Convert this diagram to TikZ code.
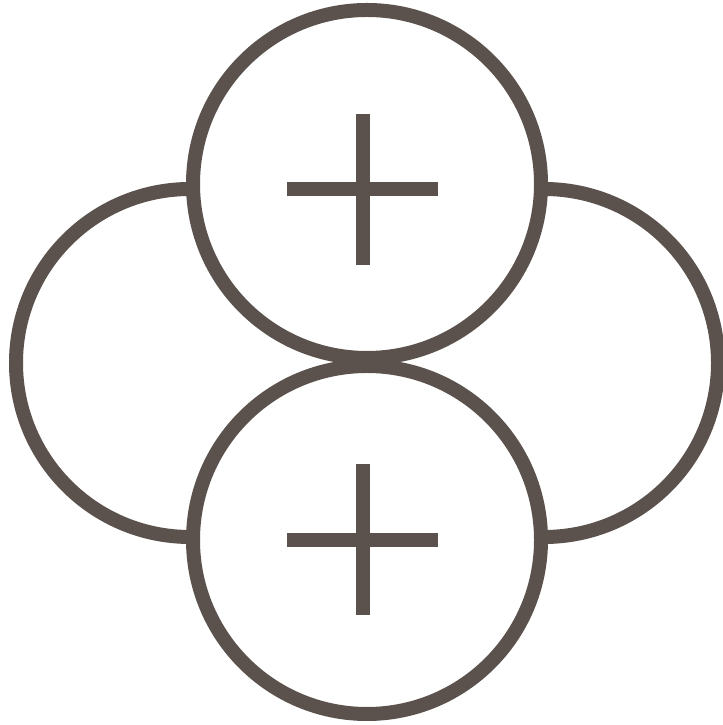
\documentclass[tikz,border=0pt]{standalone}
\usetikzlibrary{positioning,calc}
\definecolor{ringgray}{HTML}{5B524D}

\begin{document}
\begin{tikzpicture}[
		ring/.style={circle, draw=ringgray, line width=0.14cm, minimum size=3.48cm, inner sep=0pt},
		front/.style={ring, fill=white},
		cross/.style={draw=ringgray, line width=0.14cm, line cap=butt},
		every node/.style={inner sep=1pt}
		]
		
		\useasboundingbox[fill=white] (0,0) rectangle (7.23,7.25);
		
		% -------------------------------------------------
		% Side rings (behind)
		% -------------------------------------------------
		\node[ring] (left) at (1.90,3.62) {};
		\node[ring] (right) at (5.44,3.62) {};
		
		% -------------------------------------------------
		% Top and bottom rings (in front)
		% -------------------------------------------------
		\node[front] (top) at (3.67,5.41) {};
		\node[front] (bottom) at (3.67,1.85) {};
		
		% plus signs
		\coordinate (ptop) at (3.625,5.355);
		\coordinate (pbottom) at (3.625,1.85);
		\foreach \p in {ptop,pbottom}
		{
		\draw[cross] ($(\p)+(0,0.755)$) -- ($(\p)+(0,-0.755)$);
		\draw[cross] ($(\p)+(-0.755,0)$) -- ($(\p)+(0.755,0)$);
		}
		
	\end{tikzpicture}
\end{document}
